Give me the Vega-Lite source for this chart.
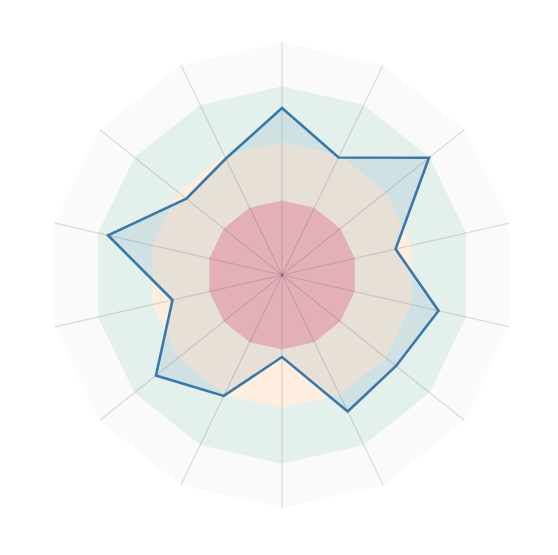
{
  "$schema": "https://vega.github.io/schema/vega-lite/v6.json",
  "width": 558,
  "height": 555,
  "padding": 0,
  "autosize": {"type": "none"},
  "config": {"view": {"stroke": null}},
  "data": {
    "values": [
      {"i": 0, "value": 71.7, "outer": 100, "good": 81, "fair": 57, "poor": 32},
      {"i": 1, "value": 56.0, "outer": 100, "good": 81, "fair": 57, "poor": 32},
      {"i": 2, "value": 80.7, "outer": 100, "good": 81, "fair": 57, "poor": 32},
      {"i": 3, "value": 50.0, "outer": 100, "good": 81, "fair": 57, "poor": 32},
      {"i": 4, "value": 68.9, "outer": 100, "good": 81, "fair": 57, "poor": 32},
      {"i": 5, "value": 62.6, "outer": 100, "good": 81, "fair": 57, "poor": 32},
      {"i": 6, "value": 65.0, "outer": 100, "good": 81, "fair": 57, "poor": 32},
      {"i": 7, "value": 35.2, "outer": 100, "good": 81, "fair": 57, "poor": 32},
      {"i": 8, "value": 57.6, "outer": 100, "good": 81, "fair": 57, "poor": 32},
      {"i": 9, "value": 69.2, "outer": 100, "good": 81, "fair": 57, "poor": 32},
      {"i": 10, "value": 48.2, "outer": 100, "good": 81, "fair": 57, "poor": 32},
      {"i": 11, "value": 76.6, "outer": 100, "good": 81, "fair": 57, "poor": 32},
      {"i": 12, "value": 52.5, "outer": 100, "good": 81, "fair": 57, "poor": 32},
      {"i": 13, "value": 55.5, "outer": 100, "good": 81, "fair": 57, "poor": 32}
    ]
  },
  "transform": [{"calculate": "datum.i * 2 * PI / 14", "as": "ang"}],
  "encoding": {
    "x": {"field": "px", "type": "quantitative", "scale": {"domain": [-121.03, 118.45], "nice": false, "zero": false}, "axis": null},
    "y": {"field": "py", "type": "quantitative", "scale": {"domain": [-120.17, 118.03], "nice": false, "zero": false}, "axis": null},
    "order": {"field": "i", "type": "quantitative"}
  },
  "layer": [
    {
      "transform": [
        {"calculate": "datum.outer * sin(datum.ang)", "as": "px"},
        {"calculate": "datum.outer * cos(datum.ang)", "as": "py"}
      ],
      "mark": {"type": "line", "interpolate": "linear-closed", "fill": "#fafafa", "stroke": null, "strokeWidth": 0}
    },
    {
      "transform": [
        {"calculate": "datum.good * sin(datum.ang)", "as": "px"},
        {"calculate": "datum.good * cos(datum.ang)", "as": "py"}
      ],
      "mark": {"type": "line", "interpolate": "linear-closed", "fill": "#e4f0ec", "stroke": null, "strokeWidth": 0}
    },
    {
      "transform": [
        {"calculate": "datum.fair * sin(datum.ang)", "as": "px"},
        {"calculate": "datum.fair * cos(datum.ang)", "as": "py"}
      ],
      "mark": {"type": "line", "interpolate": "linear-closed", "fill": "#feeedf", "stroke": null, "strokeWidth": 0}
    },
    {
      "transform": [
        {"calculate": "datum.poor * sin(datum.ang)", "as": "px"},
        {"calculate": "datum.poor * cos(datum.ang)", "as": "py"}
      ],
      "mark": {"type": "line", "interpolate": "linear-closed", "fill": "#fbb8bd", "stroke": null, "strokeWidth": 0}
    },
    {
      "transform": [
        {"calculate": "datum.outer * sin(datum.ang)", "as": "px"},
        {"calculate": "datum.outer * cos(datum.ang)", "as": "py"}
      ],
      "mark": {"type": "rule", "color": "#000000", "opacity": 0.13, "strokeWidth": 1.2},
      "encoding": {
        "x": {"datum": 0, "type": "quantitative"},
        "y": {"datum": 0, "type": "quantitative"},
        "x2": {"field": "px"},
        "y2": {"field": "py"}
      }
    },
    {
      "transform": [
        {"calculate": "datum.value * sin(datum.ang)", "as": "px"},
        {"calculate": "datum.value * cos(datum.ang)", "as": "py"}
      ],
      "mark": {"type": "line", "interpolate": "linear-closed", "fill": "#3a78a8", "fillOpacity": 0.12, "stroke": "#3a78a8", "strokeWidth": 2.6}
    }
  ]
}
